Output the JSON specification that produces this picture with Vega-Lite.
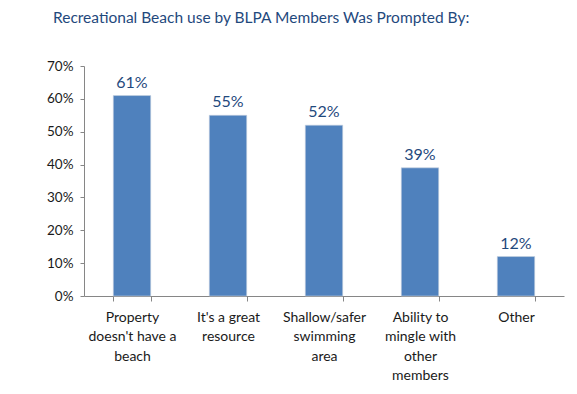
{
  "$schema": "https://vega.github.io/schema/vega-lite/v6.json",
  "width": 480,
  "height": 230,
  "autosize": {"type": "none"},
  "padding": {"left": 84, "top": 66, "right": 13, "bottom": 98},
  "background": "white",
  "title": {
    "text": "Recreational Beach use by BLPA Members Was Prompted By:",
    "anchor": "start",
    "frame": "group",
    "dx": -31,
    "offset": 33,
    "font": "Lato",
    "fontSize": 15.5,
    "fontWeight": "normal",
    "color": "#1F497D"
  },
  "data": {
    "values": [
      {"label": "Property|doesn't have a|beach", "value": 0.61},
      {"label": "It's a great|resource", "value": 0.55},
      {"label": "Shallow/safer|swimming|area", "value": 0.52},
      {"label": "Ability to|mingle with|other|members", "value": 0.39},
      {"label": "Other", "value": 0.12}
    ]
  },
  "config": {
    "view": {"stroke": null},
    "axis": {"labelFont": "Lato", "labelColor": "#1a1a1a", "domainColor": "#868686", "tickColor": "#868686", "grid": false, "title": null}
  },
  "encoding": {
    "x": {
      "field": "label",
      "type": "nominal",
      "sort": null,
      "scale": {"paddingInner": 0.61, "paddingOuter": 0.305},
      "axis": {
        "labelAngle": 0,
        "labelExpr": "split(datum.label, '|')",
        "labelFontSize": 14,
        "labelLineHeight": 19.5,
        "labelPadding": 9,
        "tickBand": "extent",
        "tickSize": 5,
        "labelBaseline": "top"
      }
    },
    "y": {
      "field": "value",
      "type": "quantitative",
      "scale": {"domain": [0, 0.7]},
      "axis": {
        "format": ".0%",
        "values": [0, 0.1, 0.2, 0.3, 0.4, 0.5, 0.6, 0.7],
        "labelFontSize": 13.5,
        "tickSize": 4,
        "labelPadding": 7
      }
    }
  },
  "layer": [
    {"mark": {"type": "bar", "color": "#4F81BD", "stroke": "#C9D3E0", "strokeWidth": 0.6}},
    {
      "mark": {"type": "text", "baseline": "bottom", "dy": -5, "font": "Lato", "fontSize": 16, "color": "#1F497D"},
      "encoding": {"text": {"field": "value", "type": "quantitative", "format": ".0%"}}
    }
  ]
}
